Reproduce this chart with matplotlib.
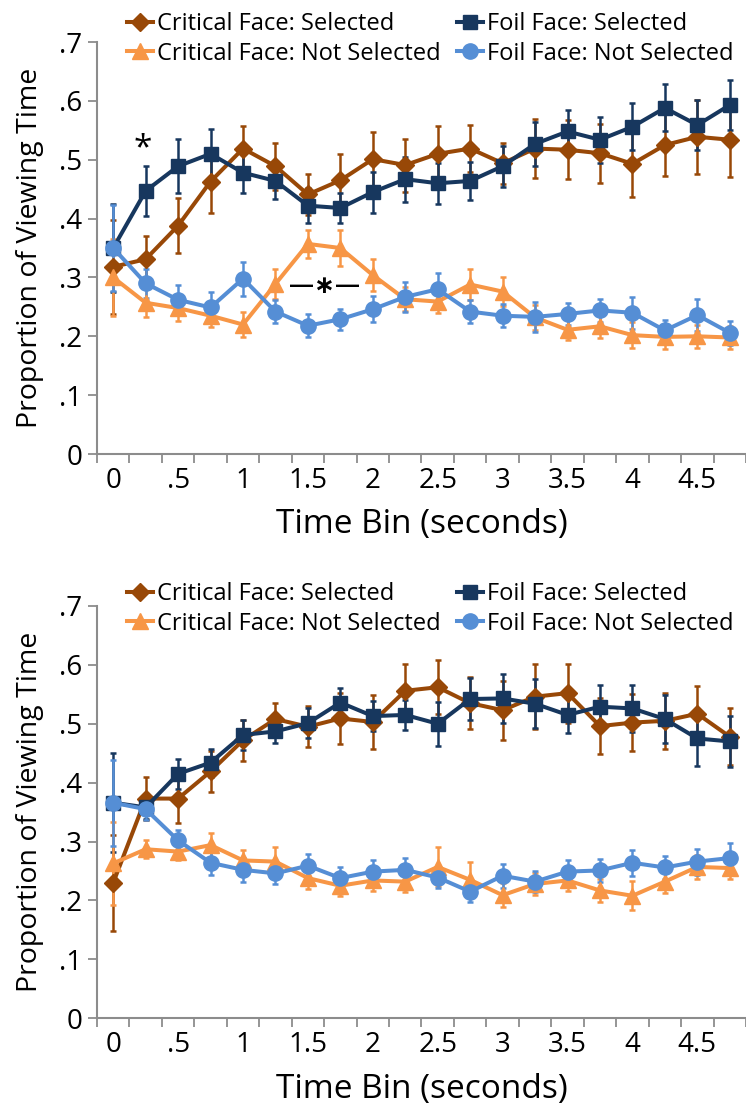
import matplotlib
matplotlib.use('Agg')
import matplotlib.pyplot as plt
import numpy as np

plt.rcParams['font.family'] = ['Open Sans', 'DejaVu Sans']

time_labels = ['0', '.5', '1', '1.5', '2', '2.5', '3', '3.5', '4', '4.5']
y_labels = ['0', '.1', '.2', '.3', '.4', '.5', '.6', '.7']

series_names = ['Critical Face: Selected', 'Critical Face: Not Selected',
                'Foil Face: Selected', 'Foil Face: Not Selected']

# top panel
crit_sel_top = [0.318, 0.331, 0.388, 0.463, 0.519, 0.489, 0.441, 0.465, 0.501, 0.491,
                0.510, 0.519, 0.494, 0.519, 0.517, 0.511, 0.493, 0.525, 0.539, 0.534]
crit_sel_top_err = [0.080, 0.040, 0.047, 0.053, 0.038, 0.040, 0.035, 0.044, 0.046, 0.045,
                    0.047, 0.040, 0.035, 0.050, 0.050, 0.050, 0.056, 0.053, 0.063, 0.064]
foil_sel_top = [0.350, 0.447, 0.489, 0.510, 0.478, 0.464, 0.422, 0.418, 0.445, 0.467,
                0.460, 0.464, 0.489, 0.527, 0.548, 0.534, 0.556, 0.588, 0.559, 0.593]
foil_sel_top_err = [0.075, 0.042, 0.046, 0.042, 0.035, 0.030, 0.030, 0.026, 0.035, 0.038,
                    0.035, 0.033, 0.035, 0.037, 0.036, 0.039, 0.040, 0.040, 0.042, 0.042]
crit_not_top = [0.300, 0.257, 0.248, 0.235, 0.220, 0.289, 0.357, 0.350, 0.304, 0.263,
                0.259, 0.288, 0.276, 0.232, 0.211, 0.217, 0.202, 0.199, 0.200, 0.198]
crit_not_top_err = [0.065, 0.025, 0.022, 0.020, 0.022, 0.025, 0.024, 0.030, 0.027, 0.020,
                    0.020, 0.026, 0.025, 0.022, 0.018, 0.020, 0.022, 0.020, 0.020, 0.020]
foil_not_top = [0.350, 0.290, 0.262, 0.249, 0.298, 0.242, 0.218, 0.229, 0.246, 0.267,
                0.280, 0.242, 0.235, 0.233, 0.238, 0.244, 0.240, 0.210, 0.236, 0.206]
foil_not_top_err = [0.073, 0.025, 0.025, 0.027, 0.029, 0.020, 0.020, 0.018, 0.022, 0.025,
                    0.027, 0.020, 0.020, 0.025, 0.018, 0.020, 0.027, 0.018, 0.027, 0.020]

# bottom panel
crit_sel_bot = [0.230, 0.373, 0.373, 0.419, 0.472, 0.508, 0.495, 0.509, 0.503, 0.556,
                0.562, 0.535, 0.523, 0.546, 0.552, 0.496, 0.502, 0.505, 0.517, 0.478]
crit_sel_bot_err = [0.082, 0.037, 0.042, 0.035, 0.035, 0.027, 0.035, 0.043, 0.045, 0.045,
                    0.046, 0.044, 0.050, 0.055, 0.050, 0.048, 0.048, 0.048, 0.047, 0.048]
foil_sel_bot = [0.366, 0.358, 0.415, 0.434, 0.481, 0.487, 0.501, 0.536, 0.513, 0.515,
                0.500, 0.542, 0.543, 0.534, 0.515, 0.529, 0.526, 0.508, 0.475, 0.470]
foil_sel_bot_err = [0.084, 0.020, 0.025, 0.024, 0.026, 0.020, 0.025, 0.024, 0.026, 0.025,
                    0.037, 0.035, 0.042, 0.042, 0.030, 0.036, 0.040, 0.040, 0.047, 0.044]
crit_not_bot = [0.263, 0.287, 0.283, 0.294, 0.268, 0.266, 0.238, 0.225, 0.234, 0.232,
                0.257, 0.235, 0.209, 0.228, 0.234, 0.217, 0.208, 0.232, 0.257, 0.255]
crit_not_bot_err = [0.070, 0.015, 0.015, 0.020, 0.018, 0.025, 0.018, 0.018, 0.018, 0.018,
                    0.033, 0.030, 0.020, 0.018, 0.018, 0.020, 0.025, 0.020, 0.020, 0.018]
foil_not_bot = [0.366, 0.355, 0.302, 0.264, 0.252, 0.246, 0.259, 0.238, 0.249, 0.252,
                0.239, 0.215, 0.242, 0.232, 0.249, 0.251, 0.264, 0.256, 0.266, 0.272]
foil_not_bot_err = [0.073, 0.018, 0.018, 0.020, 0.020, 0.018, 0.020, 0.018, 0.020, 0.020,
                    0.018, 0.018, 0.020, 0.018, 0.020, 0.020, 0.022, 0.020, 0.022, 0.025]

colors = {'crit_sel': '#984807', 'crit_not': '#F79646',
          'foil_sel': '#17375E', 'foil_not': '#558ED5'}
markers = {'crit_sel': ('D', 9), 'crit_not': ('^', 11.5),
           'foil_sel': ('s', 10), 'foil_not': ('o', 11)}
AXIS_GREY = '#8C8C8C'


def draw_panel(ax: plt.Axes, data: dict, legend_y: float = 1.072) -> dict:
    x = np.arange(len(data['crit_sel'][0]))
    handles = {}
    # draw order keeps the light blue circles on top
    for key in ['crit_sel', 'foil_sel', 'crit_not', 'foil_not']:
        vals, errs = data[key]
        mk, ms = markers[key]
        cont = ax.errorbar(x, vals, yerr=errs, color=colors[key], lw=2.9,
                           marker=mk, ms=ms, mec=colors[key],
                           elinewidth=1.8, capsize=2.5, capthick=1.8)
        handles[key] = cont[0]

    ax.set_xlim(-0.5, len(x) - 0.5)
    ax.set_ylim(0, 0.7)
    ax.set_yticks(np.arange(0, 0.71, 0.1), y_labels)
    ax.set_xticks(np.arange(0, len(x), 2), time_labels)
    ax.set_xticks(np.arange(-0.5, len(x), 1), minor=True)

    for side in ['top', 'right']:
        ax.spines[side].set_visible(False)
    for side in ['left', 'bottom']:
        ax.spines[side].set_color(AXIS_GREY)
        ax.spines[side].set_linewidth(1.5)

    ax.tick_params(axis='x', which='major', length=0, pad=9, labelsize=20)
    ax.tick_params(axis='x', which='minor', length=6.5, width=1.3, color=AXIS_GREY)
    ax.tick_params(axis='y', length=6.5, width=1.3, color=AXIS_GREY, pad=4, labelsize=20)

    ax.set_xlabel('Time Bin (seconds)', fontsize=24, labelpad=10)
    ax.set_ylabel('Proportion of Viewing Time', fontsize=20.5, labelpad=11)

    order = ['crit_sel', 'crit_not', 'foil_sel', 'foil_not']
    ax.legend([handles[k] for k in order], series_names, ncol=2, frameon=False,
              fontsize=17, handlelength=1.1, handletextpad=0.17,
              columnspacing=0.67, labelspacing=0.22, borderpad=0, borderaxespad=0,
              loc='upper left', bbox_to_anchor=(0.047, legend_y))
    return handles


fig = plt.figure(figsize=(7.46, 11.09), dpi=100)
ax_top = fig.add_axes([0.130, 0.5906, 0.870, 0.3715])
ax_bot = fig.add_axes([0.130, 0.0818, 0.870, 0.3718])

draw_panel(ax_top, {'crit_sel': (crit_sel_top, crit_sel_top_err),
                    'crit_not': (crit_not_top, crit_not_top_err),
                    'foil_sel': (foil_sel_top, foil_sel_top_err),
                    'foil_not': (foil_not_top, foil_not_top_err)})
draw_panel(ax_bot, {'crit_sel': (crit_sel_bot, crit_sel_bot_err),
                    'crit_not': (crit_not_bot, crit_not_bot_err),
                    'foil_sel': (foil_sel_bot, foil_sel_bot_err),
                    'foil_not': (foil_not_bot, foil_not_bot_err)},
           legend_y=1.057)

# significance markers
ax_top.text(0.92, 0.518, '*', fontsize=24, ha='center', va='center')
ax_top.text(6.5, 0.284, '\u2014\u2217\u2014', fontsize=18, fontweight='semibold',
            ha='center', va='center')

fig.savefig('out.png', dpi=100)
